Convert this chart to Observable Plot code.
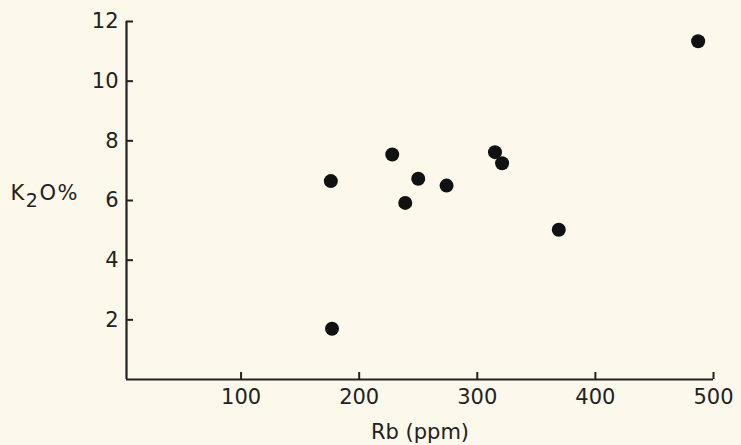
<!DOCTYPE html>
<html>
<head>
<meta charset="utf-8">
<script src="https://cdn.jsdelivr.net/npm/d3@7"></script>
<script src="https://cdn.jsdelivr.net/npm/@observablehq/plot@0.6"></script>
<style>
  html, body { margin: 0; padding: 0; background: #fcf8eb; }
  #chart svg { display: block; }
</style>
</head>
<body>
<div id="chart"></div>
<script>
// Data
const rb  = [176, 177, 228, 239, 250, 274, 315, 321, 369, 487];
const k2o = [6.65, 1.7, 7.54, 5.92, 6.73, 6.5, 7.62, 7.25, 5.02, 11.34];
const xTicks = [100, 200, 300, 400, 500];
const yTicks = [2, 4, 6, 8, 10, 12];
const xDomain = [3, 500];
const yDomain = [0, 12];
const xLabel = "Rb (ppm)";
const yLabelParts = ["K", "2", "O%"];

const points = rb.map((r, i) => ({rb: r, k2o: k2o[i]}));
const ink = "#222";

const plot = Plot.plot({
  width: 741,
  height: 445,
  marginLeft: 126,
  marginRight: 28,
  marginTop: 21,
  marginBottom: 66,
  style: {background: "#fcf8eb", color: ink, fontFamily: "DejaVu Sans, sans-serif", fontSize: "21px"},
  x: {domain: xDomain},
  y: {domain: yDomain},
  marks: [
    Plot.ruleY([yDomain[0]], {stroke: ink, strokeWidth: 2.2}),
    Plot.ruleX([xDomain[0]], {stroke: ink, strokeWidth: 2.2}),
    // inward ticks
    Plot.axisX({ticks: xTicks, tickSize: 7, dy: -7, text: null, stroke: ink, strokeWidth: 2, label: null}),
    Plot.axisY({ticks: yTicks, tickSize: 7, dx: 7, text: null, stroke: ink, strokeWidth: 2, label: null}),
    // tick labels
    Plot.axisX({ticks: xTicks, tickSize: 0, tickPadding: 10, fill: ink, fontSize: 21, label: xLabel, labelAnchor: "center", labelArrow: "none", labelOffset: 59}),
    Plot.axisY({ticks: yTicks, tickSize: 0, tickPadding: 8, fill: ink, fontSize: 21, label: null}),
    Plot.text([yLabelParts.join("")], {frameAnchor: "left", text: d => d, dx: -116, dy: -7, textAnchor: "start", fontSize: 21, fill: ink, className: "ylabel"}),
    Plot.dot(points, {x: "rb", y: "k2o", r: 7, fill: "#111", stroke: "none"})
  ]
});
// render the subscript in the y label as real text with tspans
d3.select(plot).selectAll(".ylabel text").each(function() {
  const t = d3.select(this).text("").attr("letter-spacing", 1.5);
  t.append("tspan").text(yLabelParts[0]);
  t.append("tspan").attr("dy", 7).attr("font-size", 19).text(yLabelParts[1]);
  t.append("tspan").attr("dy", -7).text(yLabelParts[2]);
});
document.getElementById("chart").append(plot);
</script>
</body>
</html>
